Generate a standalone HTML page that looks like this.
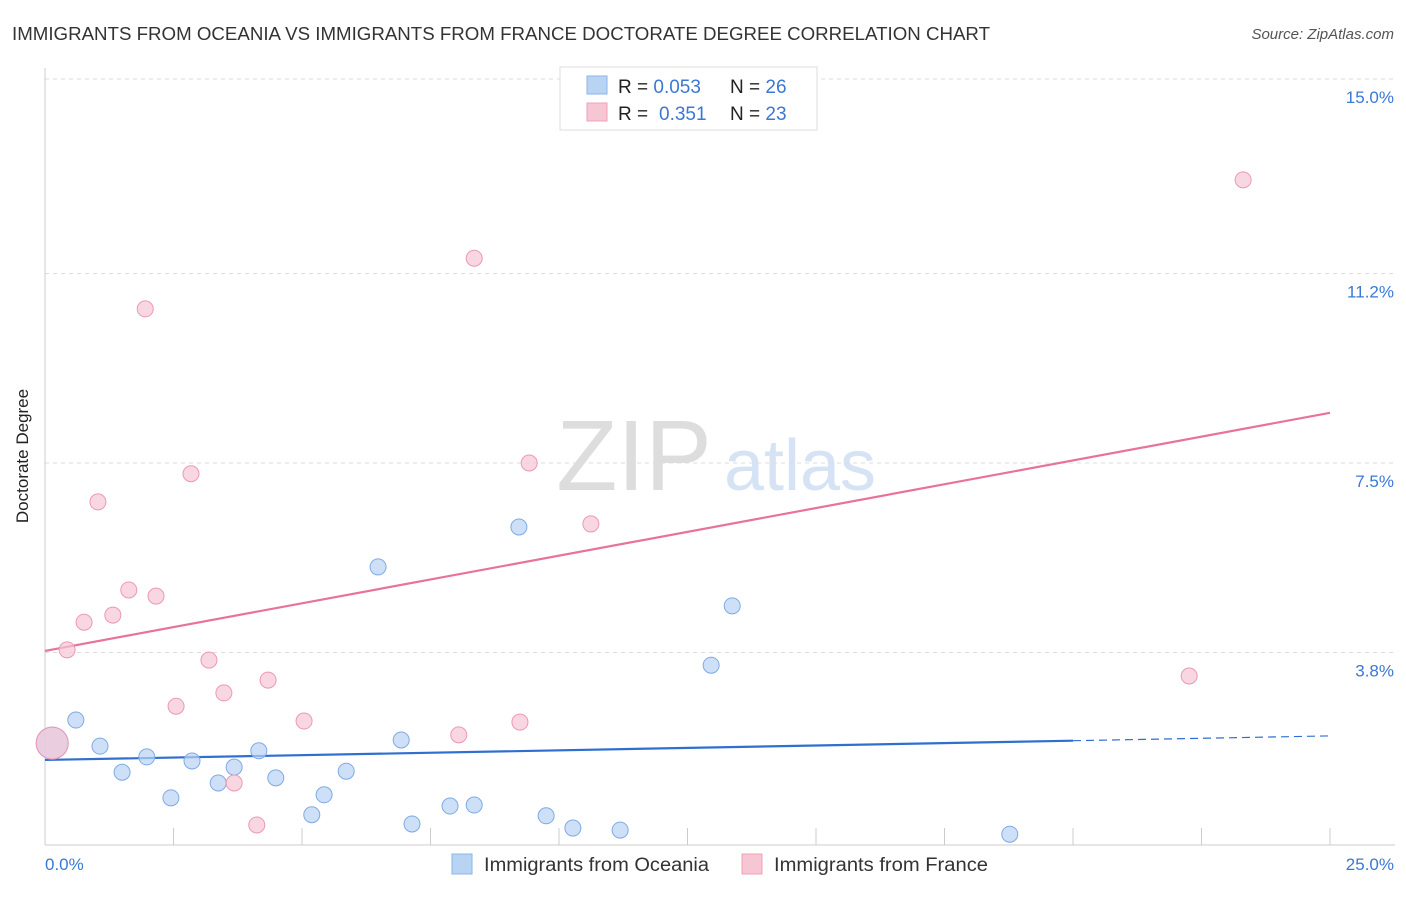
<!DOCTYPE html>
<html><head><meta charset="utf-8"><style>
body{margin:0;background:#fff;font-family:"Liberation Sans",sans-serif}
svg text{font-family:"Liberation Sans",sans-serif}
</style></head><body>
<svg width="1406" height="892" xmlns="http://www.w3.org/2000/svg">
<text x="12" y="40" font-size="18" fill="#333" textLength="978" lengthAdjust="spacingAndGlyphs">IMMIGRANTS FROM OCEANIA VS IMMIGRANTS FROM FRANCE DOCTORATE DEGREE CORRELATION CHART</text>
<text x="1394" y="39" font-size="15" fill="#555" font-style="italic" text-anchor="end">Source: ZipAtlas.com</text>
<text x="634" y="490" font-size="100" fill="#ddd" font-family="Liberation Serif" text-anchor="middle">ZIP</text>
<text x="800" y="490" font-size="72" fill="#d5e3f5" text-anchor="middle">atlas</text>
<g id="grid"></g>
<line x1="45" y1="68" x2="45" y2="845" stroke="#ccc"/>
<line x1="45" y1="845" x2="1395" y2="845" stroke="#ccc"/>
<text x="28" y="456" font-size="17" fill="#222" text-anchor="middle" transform="rotate(-90 28 456)">Doctorate Degree</text>
<text x="45" y="870" font-size="17" fill="#3a78d4">0.0%</text>
<text x="1394" y="870" font-size="17" fill="#3a78d4" text-anchor="end">25.0%</text>
<g id="lines"></g>
<g id="pts"></g>
<g>
<rect x="560" y="67" width="257" height="63" fill="#fff" stroke="#ddd"/>
<rect x="587" y="76" width="20" height="18" fill="#b9d3f3" stroke="#8ab4e8"/>
<rect x="587" y="103" width="20" height="18" fill="#f7c6d5" stroke="#f0a0b8"/>
<text x="618" y="93" font-size="19" fill="#222">R = <tspan fill="#3a78d4">0.053</tspan><tspan x="730">N = </tspan><tspan fill="#3a78d4">26</tspan></text>
<text x="618" y="120" font-size="19" fill="#222">R = <tspan fill="#3a78d4" x="659">0.351</tspan><tspan x="730">N = </tspan><tspan fill="#3a78d4">23</tspan></text>
</g>
<g>
<rect x="452" y="854" width="20" height="20" fill="#b9d3f3" stroke="#8ab4e8"/>
<text x="484" y="871" font-size="19" fill="#333" textLength="225" lengthAdjust="spacingAndGlyphs">Immigrants from Oceania</text>
<rect x="742" y="854" width="20" height="20" fill="#f7c6d5" stroke="#f0a0b8"/>
<text x="774" y="871" font-size="19" fill="#333" textLength="214" lengthAdjust="spacingAndGlyphs">Immigrants from France</text>
</g>
</svg>
<script>
const yTicks=[3.8,7.5,11.2,15.0];
const yTickLabels=["3.8%","7.5%","11.2%","15.0%"];
const xTicks=[2.5,5,7.5,10,12.5,15,17.5,20,22.5,25];
const oceaniaX=[0.14,0.60,1.07,1.50,1.98,2.45,2.86,3.37,3.68,4.16,4.49,5.19,5.43,5.86,6.48,6.93,7.14,7.88,8.35,9.22,9.75,10.27,11.19,12.96,13.37,18.77];
const oceaniaY=[2.03,2.48,1.97,1.46,1.76,0.96,1.68,1.25,1.56,1.88,1.35,0.63,1.02,1.48,5.47,2.09,0.45,0.80,0.82,6.25,0.61,0.37,0.33,3.55,4.71,0.25];
const franceX=[0.14,0.43,0.76,1.03,1.32,1.63,1.95,2.16,2.55,2.84,3.19,3.48,3.68,4.12,4.34,5.04,8.05,8.35,9.24,9.42,10.62,22.26,23.31];
const franceY=[2.03,3.85,4.39,6.74,4.53,5.02,10.51,4.90,2.75,7.29,3.65,3.01,1.25,0.43,3.26,2.46,2.19,11.50,2.44,7.50,6.31,3.34,13.03];
const oceaniaTrend=[1.70,2.17];
const franceTrend=[3.83,8.48];
const NS="http://www.w3.org/2000/svg";
const X=v=>45+v/25*1285;
const Y=v=>847-v*51.2;
function mk(t,a,p){const e=document.createElementNS(NS,t);for(const k in a)e.setAttribute(k,a[k]);document.getElementById(p).appendChild(e);return e;}
yTicks.forEach((t,i)=>{
 const l=mk('line',{x1:45,x2:1395,y1:Y(t),y2:Y(t),stroke:'#ddd','stroke-dasharray':'4,4'},'grid');
 
 
 const tx=mk('text',{x:1394,y:Y(t)+24,'font-size':17,fill:'#3a78d4','text-anchor':'end'},'grid');
 tx.textContent=yTickLabels[i];
 
 
});
xTicks.forEach(t=>{
 const l=mk('line',{x1:X(t),x2:X(t),y1:828,y2:845,stroke:'#ccc'},'grid');
 
 
});
const bx=20;
let l1=mk('line',{x1:X(0),y1:Y(oceaniaTrend[0]),x2:X(bx),y2:Y(oceaniaTrend[0]+(oceaniaTrend[1]-oceaniaTrend[0])*bx/25),stroke:'#2f6fd0','stroke-width':2.2},'lines');


let l2=mk('line',{x1:X(bx),y1:Y(oceaniaTrend[0]+(oceaniaTrend[1]-oceaniaTrend[0])*bx/25),x2:X(25),y2:Y(oceaniaTrend[1]),stroke:'#2f6fd0','stroke-width':1.2,'stroke-dasharray':'8,5'},'lines');


let l3=mk('line',{x1:X(0),y1:Y(franceTrend[0]),x2:X(25),y2:Y(franceTrend[1]),stroke:'#e8729a','stroke-width':2.2},'lines');


function pts(xs,ys,fill,stroke,name){
 xs.forEach((x,i)=>{
  const r=(i===0)?16:8;
  const c=mk('circle',{cx:X(x),cy:Y(ys[i]),r:r,fill:fill,stroke:stroke,'stroke-width':1,'fill-opacity':0.7},'pts');
  
  
 });
}
pts(oceaniaX,oceaniaY,'#b9d3f3','#7eaae3','oceania-point');
pts(franceX,franceY,'#f7c6d5','#ec98b3','france-point');
</script>
</body></html>
